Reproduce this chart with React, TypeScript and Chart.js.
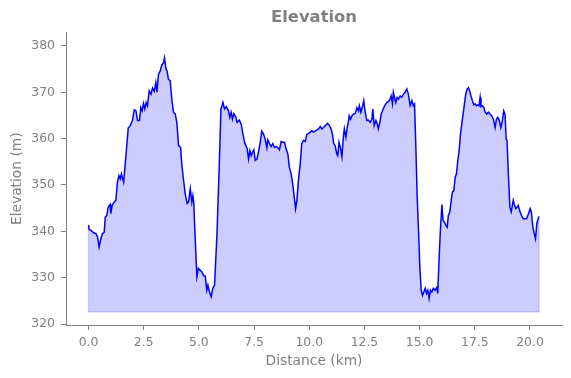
import React, { useEffect, useRef } from "react";
import { Chart, registerables } from "chart.js";

Chart.register(...registerables);

const distanceKm = [
  0.0, 0.03, 0.11, 0.23, 0.34, 0.41, 0.48, 0.56, 0.63, 0.71, 0.76, 0.83, 0.89, 0.98, 1.01, 1.07, 1.16, 1.24,
  1.31, 1.38, 1.44, 1.49, 1.59, 1.65, 1.74, 1.8, 1.89, 1.99, 2.07, 2.15, 2.22, 2.31, 2.37, 2.43, 2.49, 2.55,
  2.61, 2.67, 2.75, 2.83, 2.9, 2.98, 3.05, 3.1, 3.17, 3.25, 3.32, 3.4, 3.44, 3.51, 3.56, 3.62, 3.7, 3.78,
  3.85, 3.93, 4.0, 4.08, 4.17, 4.23, 4.3, 4.38, 4.47, 4.53, 4.61, 4.68, 4.73, 4.77, 4.83, 4.91, 4.98, 5.06,
  5.14, 5.21, 5.29, 5.36, 5.41, 5.48, 5.56, 5.63, 5.71, 5.82, 5.92, 6.0, 6.09, 6.16, 6.24, 6.34, 6.4, 6.46,
  6.52, 6.58, 6.68, 6.73, 6.83, 6.92, 6.97, 7.07, 7.13, 7.19, 7.25, 7.31, 7.37, 7.43, 7.49, 7.55, 7.63, 7.7,
  7.78, 7.85, 7.93, 8.0, 8.08, 8.12, 8.2, 8.27, 8.35, 8.42, 8.5, 8.58, 8.65, 8.73, 8.8, 8.88, 8.95, 9.03,
  9.1, 9.18, 9.26, 9.32, 9.38, 9.44, 9.51, 9.59, 9.66, 9.74, 9.82, 9.89, 9.96, 10.04, 10.12, 10.19, 10.27, 10.35,
  10.42, 10.5, 10.57, 10.65, 10.72, 10.83, 10.92, 10.99, 11.05, 11.11, 11.17, 11.25, 11.29, 11.35, 11.41, 11.48, 11.55, 11.59,
  11.66, 11.72, 11.78, 11.81, 11.87, 11.93, 12.0, 12.08, 12.16, 12.23, 12.27, 12.34, 12.4, 12.47, 12.53, 12.61, 12.68, 12.76,
  12.84, 12.88, 12.94, 13.02, 13.08, 13.13, 13.2, 13.26, 13.32, 13.38, 13.44, 13.51, 13.59, 13.66, 13.71, 13.77, 13.81, 13.88,
  13.92, 13.98, 14.04, 14.12, 14.19, 14.27, 14.34, 14.42, 14.49, 14.57, 14.65, 14.71, 14.77, 14.83, 14.89, 14.95, 15.01, 15.07,
  15.13, 15.19, 15.25, 15.31, 15.37, 15.43, 15.49, 15.55, 15.62, 15.7, 15.78, 15.82, 15.88, 15.94, 16.01, 16.06, 16.12, 16.19,
  16.25, 16.3, 16.37, 16.43, 16.49, 16.55, 16.61, 16.67, 16.73, 16.79, 16.85, 16.91, 16.97, 17.03, 17.09, 17.15, 17.21, 17.27,
  17.33, 17.39, 17.45, 17.51, 17.57, 17.64, 17.69, 17.74, 17.78, 17.84, 17.91, 17.97, 18.04, 18.12, 18.19, 18.27, 18.34, 18.42,
  18.48, 18.54, 18.61, 18.68, 18.75, 18.81, 18.87, 18.92, 18.96, 19.02, 19.09, 19.15, 19.24, 19.3, 19.36, 19.42, 19.47, 19.55,
  19.62, 19.7, 19.78, 19.85, 19.93, 20.01, 20.06, 20.13, 20.19, 20.25, 20.31, 20.37, 20.41,
];

const elevationM = [
  341.4, 340.4, 340.2, 339.7, 339.5, 338.8, 336.6, 338.4, 339.5, 339.8, 343.1, 343.4, 345.2, 345.8, 343.8, 345.6, 346.3, 346.7,
  350.6, 352.0, 351.3, 352.4, 350.6, 353.8, 358.9, 362.3, 362.8, 363.9, 366.2, 366.0, 363.9, 363.9, 366.7, 366.0, 367.6, 366.4,
  367.8, 367.1, 370.3, 369.6, 370.9, 370.2, 372.1, 370.0, 373.9, 374.6, 375.9, 376.4, 377.4, 375.0, 374.6, 372.8, 372.5, 368.2,
  365.7, 365.3, 363.5, 358.5, 358.1, 354.2, 351.3, 348.1, 346.0, 346.3, 349.2, 346.3, 347.7, 346.0, 338.8, 330.2, 332.0, 331.6,
  331.2, 330.5, 330.3, 327.3, 328.4, 326.9, 325.9, 327.7, 328.4, 339.5, 353.8, 366.4, 367.8, 366.4, 366.9, 366.0, 364.6, 365.7,
  364.2, 365.4, 364.6, 363.5, 364.0, 363.1, 361.7, 359.2, 358.5, 357.8, 355.6, 357.4, 356.3, 357.1, 357.6, 355.3, 355.6, 357.1,
  359.2, 361.6, 361.0, 359.9, 358.0, 359.7, 358.9, 358.3, 358.9, 358.1, 358.3, 358.0, 357.6, 359.4, 359.2, 359.2, 357.8, 356.7,
  353.8, 352.4, 349.9, 347.4, 344.9, 346.7, 351.0, 354.6, 358.9, 359.6, 359.4, 360.9, 361.1, 361.4, 361.7, 361.4, 361.6, 361.9,
  362.1, 362.6, 362.1, 362.4, 362.8, 363.3, 362.8, 362.1, 361.0, 358.9, 358.5, 356.7, 356.3, 359.2, 358.1, 356.1, 360.6, 362.1,
  360.3, 362.4, 363.9, 364.9, 364.2, 364.9, 365.3, 365.4, 366.7, 366.0, 367.1, 365.7, 366.7, 368.2, 365.8, 363.9, 364.0, 363.5,
  364.2, 366.4, 362.8, 363.9, 363.2, 362.1, 363.5, 365.3, 366.0, 366.7, 367.3, 367.8, 368.0, 368.5, 369.2, 367.5, 370.0, 368.5,
  367.8, 368.9, 368.5, 369.2, 368.9, 369.6, 370.0, 370.7, 369.6, 367.1, 368.2, 367.1, 367.5, 358.1, 347.4, 340.2, 332.3, 327.3,
  326.2, 326.9, 327.7, 326.6, 327.3, 325.5, 327.3, 326.9, 327.7, 327.3, 327.9, 326.6, 333.8, 340.2, 345.8, 342.4, 342.0, 341.3,
  340.9, 343.4, 344.2, 346.7, 348.5, 348.8, 351.7, 352.4, 355.3, 357.4, 361.0, 363.2, 365.3, 367.5, 369.6, 370.7, 371.0, 370.3,
  369.2, 368.2, 367.3, 367.5, 367.1, 367.3, 367.1, 368.9, 366.9, 367.1, 366.7, 365.7, 365.3, 365.7, 365.3, 364.9, 364.2, 362.4,
  364.2, 364.6, 363.9, 362.4, 363.9, 366.0, 365.3, 359.9, 359.6, 352.4, 345.2, 344.2, 346.7, 345.6, 344.9, 345.2, 345.6, 344.2,
  343.4, 342.7, 342.7, 342.7, 343.8, 344.9, 344.2, 340.9, 339.5, 338.4, 341.7, 342.7, 343.2,
];

const fillBaseM = 322.6;
const xTickValues = [0, 2.5, 5, 7.5, 10, 12.5, 15, 17.5, 20];
const yTickValues = [320, 330, 340, 350, 360, 370, 380];

const FONT = "'DejaVu Sans', sans-serif";
const GRAY = "#808080";

export default function App() {
  const ref = useRef<HTMLCanvasElement | null>(null);

  useEffect(() => {
    if (!ref.current) return;
    const pts = distanceKm.map((x, i) => ({ x, y: elevationM[i] }));
    const n = distanceKm.length - 1;
    const outline = [
      { x: distanceKm[0], y: elevationM[0] },
      { x: distanceKm[0], y: fillBaseM },
      { x: distanceKm[n], y: fillBaseM },
      { x: distanceKm[n], y: elevationM[n] },
    ];
    const chart = new Chart(ref.current, {
      type: "line",
      data: {
        datasets: [
          {
            data: pts,
            borderColor: "#0000ff",
            borderWidth: 1.5,
            pointRadius: 0,
            tension: 0,
            fill: false,
            order: 0,
          },
          {
            data: outline,
            borderColor: "rgba(0,0,255,0.2)",
            borderWidth: 1.2,
            pointRadius: 0,
            tension: 0,
            fill: false,
            order: 1,
          },
          {
            data: pts,
            borderColor: "rgba(0,0,0,0)",
            borderWidth: 0,
            backgroundColor: "rgba(0,0,255,0.2)",
            pointRadius: 0,
            tension: 0,
            fill: { value: fillBaseM },
            order: 2,
          },
        ],
      },
      options: {
        responsive: false,
        animation: false,
        layout: { padding: { left: 0, right: 9, top: 0, bottom: 0 } },
        plugins: {
          legend: { display: false },
          tooltip: { enabled: false },
          title: {
            display: true,
            text: "Elevation",
            color: GRAY,
            fullSize: false,
            font: { family: FONT, size: 16.4, weight: "bold" },
            padding: { top: 8.4, bottom: 4.4 },
          },
        },
        scales: {
          x: {
            type: "linear",
            min: -1.02,
            max: 21.45,
            afterFit: (s: any) => {
              s.height = 53;
            },
            afterBuildTicks: (s: any) => {
              s.ticks = xTickValues.map((v) => ({ value: v }));
            },
            ticks: {
              color: GRAY,
              font: { family: FONT, size: 12.4 },
              padding: 5,
              maxRotation: 0,
              autoSkip: false,
              callback: (v: any) => Number(v).toFixed(1),
            },
            grid: {
              display: true,
              drawOnChartArea: false,
              drawTicks: true,
              tickLength: 5,
              tickColor: GRAY,
              tickWidth: 1,
            },
            border: { display: true, color: GRAY, width: 1 },
            title: {
              display: true,
              text: "Distance (km)",
              color: GRAY,
              font: { family: FONT, size: 13.8 },
              padding: { top: 0, bottom: 8.7 },
            },
          },
          y: {
            type: "linear",
            min: 319.8,
            max: 382.9,
            afterFit: (s: any) => {
              s.width = 66;
            },
            afterBuildTicks: (s: any) => {
              s.ticks = yTickValues.map((v) => ({ value: v }));
            },
            ticks: {
              color: GRAY,
              font: { family: FONT, size: 12.4 },
              padding: 6,
              autoSkip: false,
              callback: (v: any) => String(v),
            },
            grid: {
              display: true,
              drawOnChartArea: false,
              drawTicks: true,
              tickLength: 5,
              tickColor: GRAY,
              tickWidth: 1,
            },
            border: { display: true, color: GRAY, width: 1 },
            title: {
              display: true,
              text: "Elevation (m)",
              color: GRAY,
              font: { family: FONT, size: 13.8 },
              padding: { top: 8.7, bottom: 0 },
            },
          },
        },
      },
    });
    return () => chart.destroy();
  }, []);

  return (
    <div style={{ position: "absolute", left: 0, top: 0, width: 571, height: 378, background: "#fff" }}>
      <canvas ref={ref} width={571} height={378} style={{ display: "block" }} />
    </div>
  );
}
